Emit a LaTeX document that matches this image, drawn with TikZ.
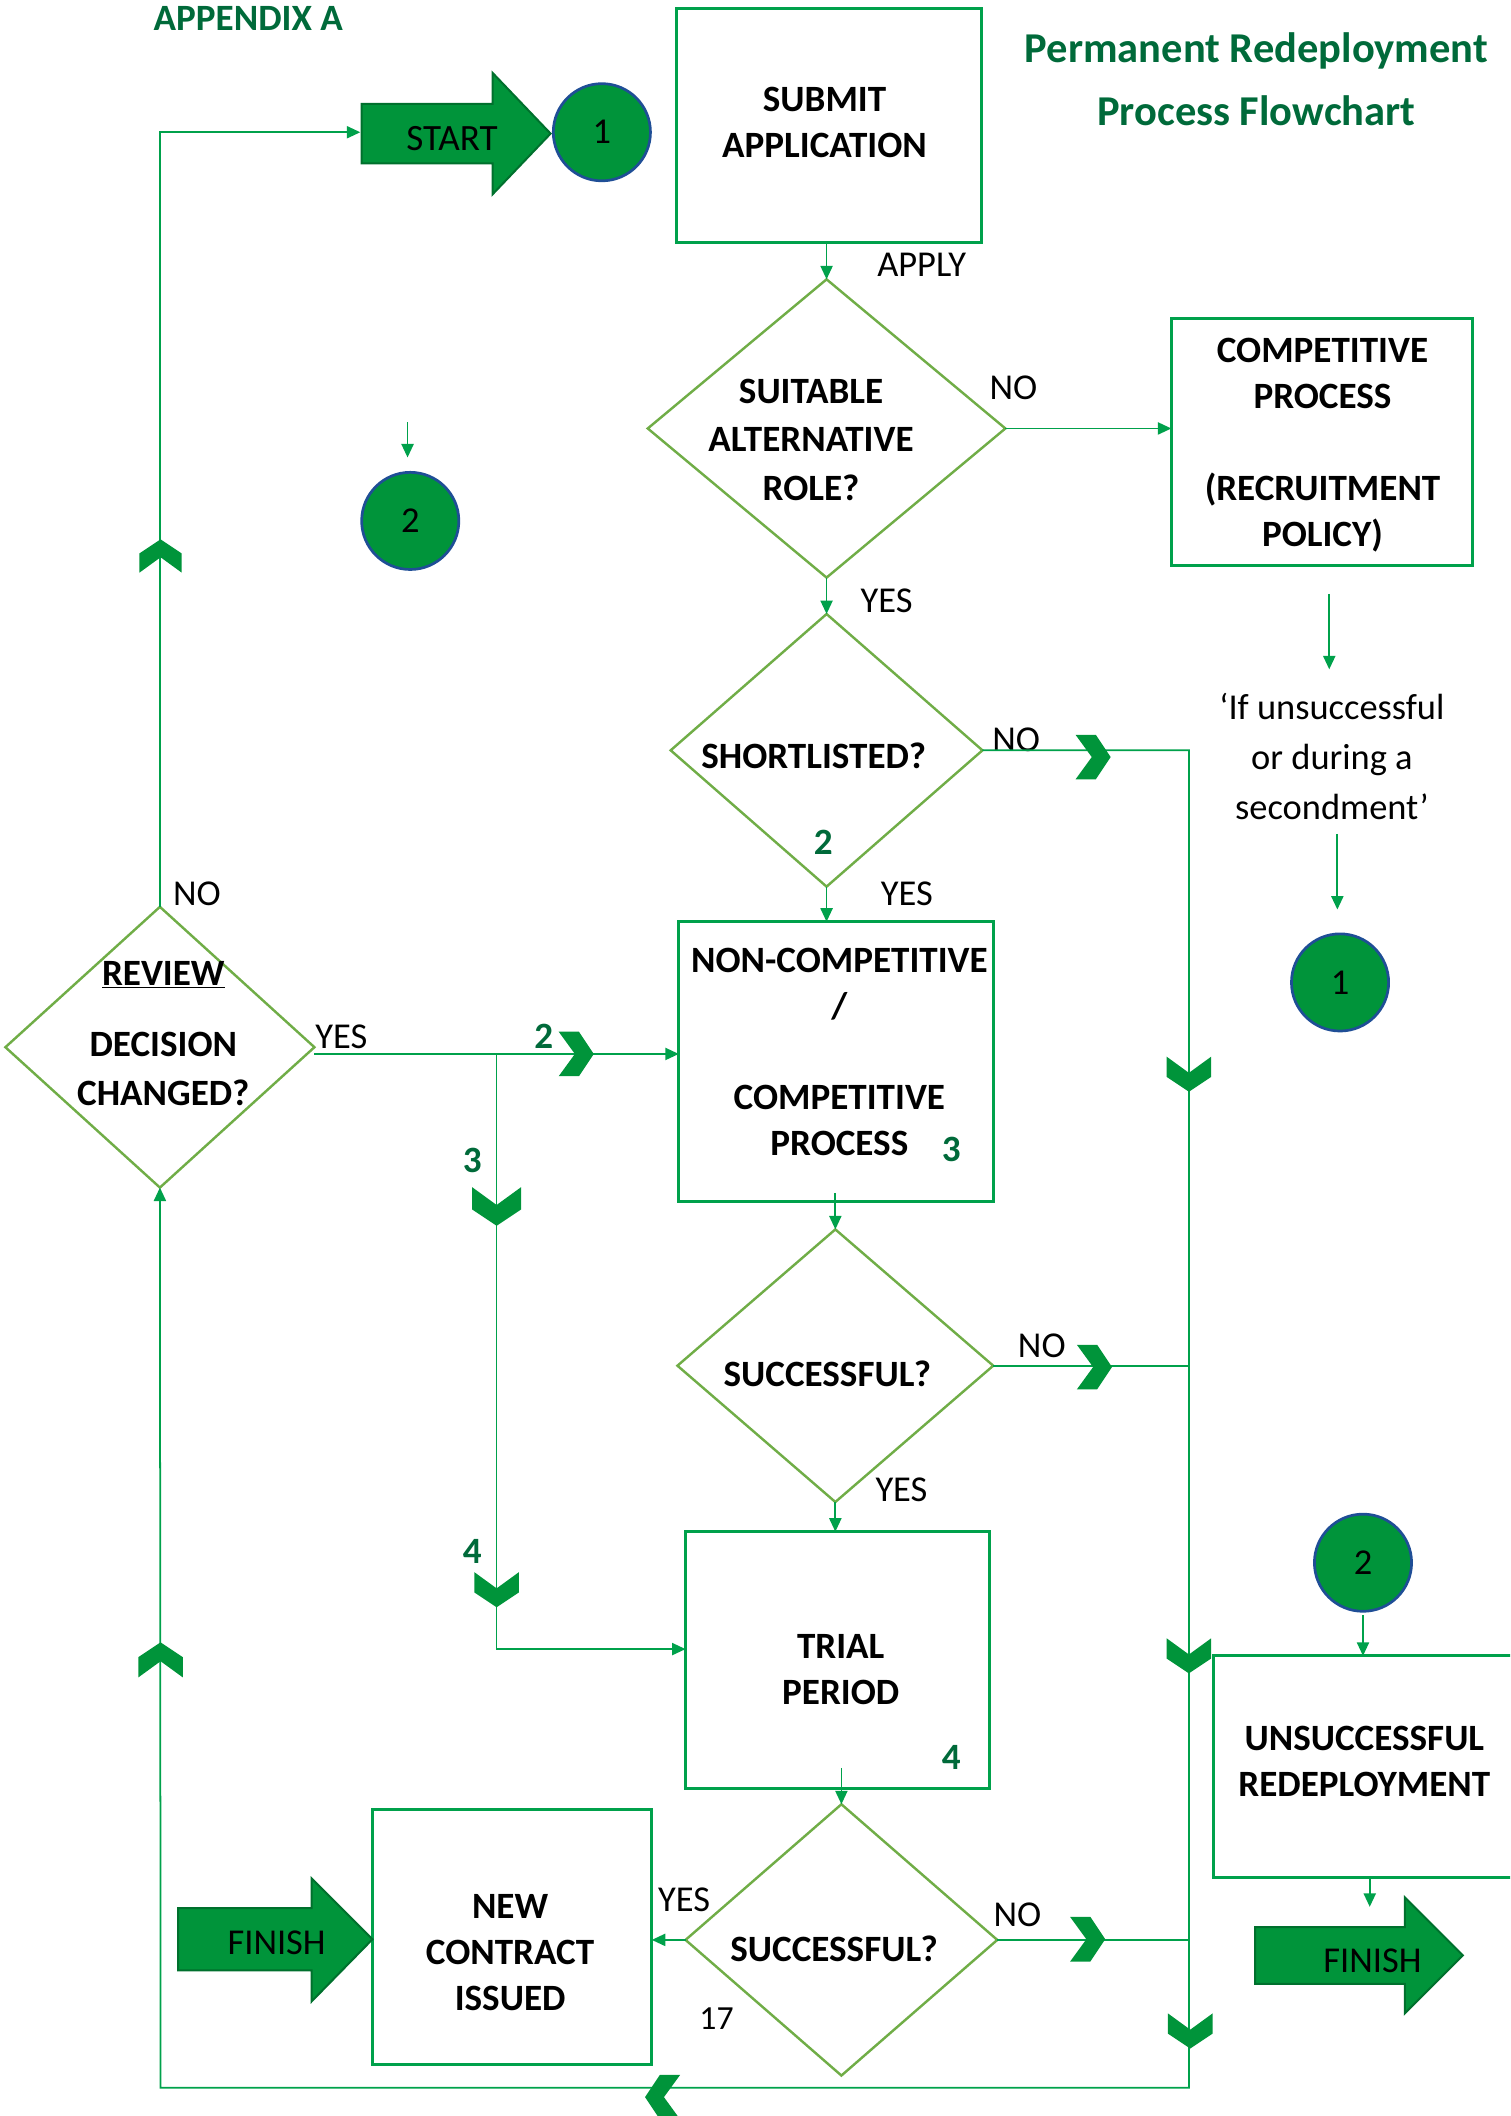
\documentclass[tikz,border=0pt]{standalone}
\usepackage{fontspec}
\setmainfont{Carlito}
\usetikzlibrary{shapes.geometric,arrows.meta,calc}
\definecolor{lgreen}{RGB}{0,161,75}
\definecolor{dgreen}{RGB}{112,173,71}
\definecolor{fgreen}{RGB}{0,148,58}
\definecolor{tgreen}{RGB}{0,106,58}
\definecolor{cblue}{RGB}{31,78,150}
\definecolor{ogreen}{RGB}{0,112,45}
\tikzset{
 conn/.style={draw=lgreen, line width=1.3pt},
 arr/.style={conn, -{Triangle[length=10pt,width=9pt]}},
 box/.style={draw=lgreen, line width=2.2pt, rectangle, inner sep=0pt, outer sep=0pt},
 dia/.style={draw=dgreen, line width=1.8pt, diamond, inner sep=0pt, outer sep=0pt},
 btxt/.style={font=\fontsize{27.5}{34}\selectfont\bfseries, align=center, inner sep=0pt},
 lbl/.style={font=\fontsize{27}{34}\selectfont, inner sep=0pt},
 gnum/.style={font=\fontsize{27.5}{34}\selectfont\bfseries, text=tgreen, inner sep=0pt},
 circ/.style={circle, fill=fgreen, draw=cblue, line width=2pt, minimum size=72pt, inner sep=0pt, outer sep=0pt, font=\fontsize{27}{34}\selectfont},
 bigarrow/.style={fill=fgreen, draw=ogreen, line width=1.5pt},
 chevron/.pic={\fill[fgreen] (-16.5,-13) -- (0,-1) -- (16.5,-13) -- (16.5,2) -- (0,13) -- (-16.5,2) -- cycle;}
}
\begin{document}
\begin{tikzpicture}[x=1pt,y=-1pt]
\useasboundingbox (0,0) rectangle (1119,1568);
\clip (0,0) rectangle (1119,1568);

% headings
\node[font=\fontsize{27.5}{34}\selectfont\bfseries, text=tgreen, inner sep=0pt] (app) at (184,13.6) {APPENDIX A};
\node[font=\fontsize{31.5}{47}\selectfont\bfseries, text=tgreen, inner sep=0pt, anchor=base] (title1) at (931,46) {Permanent Redeployment};
\node[font=\fontsize{31.5}{47}\selectfont\bfseries, text=tgreen, inner sep=0pt, anchor=base] (title2) at (931,93) {Process Flowchart};

% boxes
\node[box, minimum width=226pt, minimum height=174pt] (sub) at (614,93) {};
\node[box, minimum width=223pt, minimum height=183pt] (cp) at (979.5,327.5) {};
\node[box, minimum width=233pt, minimum height=207pt] (nc) at (619.5,786.5) {};
\node[box, minimum width=225pt, minimum height=190pt] (tp) at (620.5,1230) {};
\node[box, minimum width=207pt, minimum height=189pt] (ncc) at (379.5,1435.5) {};
\node[box, minimum width=231pt, minimum height=164pt] (ur) at (1014.5,1309) {};

% diamonds
\node[dia, minimum width=265pt, minimum height=221pt] (d1) at (612.5,317.5) {};
\node[dia, minimum width=231pt, minimum height=202pt] (d2) at (612.5,556) {};
\node[dia, minimum width=234pt, minimum height=202pt] (d3) at (619,1012) {};
\node[dia, minimum width=231pt, minimum height=201pt] (d4) at (623.5,1437.5) {};
\node[dia, minimum width=229pt, minimum height=208pt] (rev) at (118.5,776) {};

% circles
\node[circ] (c1a) at (446,98) {1};
\node[circ] (c1b) at (993,728) {1};
\node[circ] (c2a) at (304,386) {2};
\node[circ] (c2b) at (1010,1158) {2};

% big arrows
\path[bigarrow] (268,77) -- (365,77) -- (365,54) -- (408,99) -- (365,144) -- (365,121) -- (268,121) -- cycle;
\node[lbl, font=\fontsize{27.5}{34}\selectfont] (start) at (335,103) {START};
\path[bigarrow] (132,1414) -- (231,1414) -- (231,1392) -- (276,1437) -- (231,1483) -- (231,1460) -- (132,1460) -- cycle;
\node[lbl] (fin1) at (205,1440) {FINISH};
\path[bigarrow] (930,1428) -- (1041,1428) -- (1041,1406) -- (1084,1449) -- (1041,1492) -- (1041,1470) -- (930,1470) -- cycle;
\node[lbl] (fin2) at (1017,1453) {FINISH};

% texts in shapes
\node[btxt] (subt) at (611,91) {SUBMIT\\APPLICATION};
\node[btxt, font=\fontsize{27.5}{36}\selectfont\bfseries] (d1t) at (601,326) {SUITABLE\\ALTERNATIVE\\ROLE?};
\node[btxt] (cpt) at (980,330) {COMPETITIVE\\PROCESS\\[34pt](RECRUITMENT\\POLICY)};
\node[btxt] (d2t) at (603,560) {SHORTLISTED?};
\node[btxt] (revt1) at (121,722) {\underline{REVIEW}};
\node[btxt, font=\fontsize{27.5}{36}\selectfont\bfseries] (revt2) at (121,792) {DECISION\\CHANGED?};
\node[btxt] (nct) at (622,779.5) {NON-COMPETITIVE\\/\\[34pt]COMPETITIVE\\PROCESS};
\node[btxt] (d3t) at (613,1018) {SUCCESSFUL?};
\node[btxt] (tpt) at (623,1237) {TRIAL\\PERIOD};
\node[btxt] (d4t) at (618,1444) {SUCCESSFUL?};
\node[btxt] (ncct) at (378,1447) {NEW\\CONTRACT\\ISSUED};
\node[btxt] (urt) at (1011,1305) {UNSUCCESSFUL\\REDEPLOYMENT};

% quote
\node[lbl, anchor=base] (q1) at (987,533) {‘If unsuccessful};
\node[lbl, anchor=base] (q2) at (987,570) {or during a};
\node[lbl, anchor=base] (q3) at (987,607) {secondment’};

% connector labels
\node[lbl] (lapply) at (683,196) {APPLY};
\node[lbl] (lno1) at (751,287) {NO};
\node[lbl] (lyes1) at (657,445) {YES};
\node[lbl] (lno2) at (753,548) {NO};
\node[lbl] (lyes2) at (672,662) {YES};
\node[lbl] (lno3) at (146,662) {NO};
\node[lbl] (lyes3) at (253,768) {YES};
\node[lbl] (lno4) at (772,997) {NO};
\node[lbl] (lyes4) at (668,1104) {YES};
\node[lbl] (lyes5) at (507,1408) {YES};
\node[lbl] (lno5) at (754,1419) {NO};
\node[lbl, font=\fontsize{25}{30}\selectfont] (l17) at (531,1496) {17};

% green numbers
\node[gnum] (g2a) at (610,624) {2};
\node[gnum] (g2b) at (403,768) {2};
\node[gnum] (g3a) at (350,860) {3};
\node[gnum] (g3b) at (705,852) {3};
\node[gnum] (g4a) at (350,1150) {4};
\node[gnum] (g4b) at (705,1302) {4};

% helper coordinates
\coordinate (startw) at (267,98);
\coordinate (a1s) at (985,440);
\coordinate (a1e) at (985,496);
\coordinate (a2s) at (991,618);
\coordinate (a2e) at (991,674);
\coordinate (a3s) at (302,313);
\coordinate (a3e) at (302,339);
\coordinate (rbot) at (881,1547);
\coordinate (lbot) at (119,1547);
\coordinate (yj) at (368,781);
\coordinate (yj2) at (368,1222);
\coordinate (f2t) at (1015,1413);

% connectors
\draw[arr] (rev.north) -- (rev.north |- startw) -- (startw);
\draw[arr] (sub.south -| d1.north) -- (d1.north);
\draw[arr] (d1.east) -- (d1.east -| cp.west);
\draw[arr] (a1s) -- (a1e);
\draw[arr] (a2s) -- (a2e);
\draw[arr] (a3s) -- (a3e);
\draw[arr] (d1.south) -- (d2.north);
\draw[arr] (d2.east) -- (d2.east -| rbot) -- (rbot) -- (lbot) -- (rev.south);
\draw[arr] (d2.south) -- (d2.south |- nc.north);
\draw[arr] (rev.east |- yj) -- (yj -| nc.west);
\draw[arr] (yj) -- (yj2) -- (yj2 -| tp.west);
\draw[arr] ($(nc.south -| d3.north)+(0,-6)$) -- (d3.north);
\draw[conn] (d3.east) -- (d3.east -| rbot);
\draw[arr] (d3.south) -- (d3.south |- tp.north);
\draw[arr] ($(tp.south -| d4.north)+(0,-15)$) -- (d4.north);
\draw[arr] (d4.west) -- (d4.west -| ncc.east);
\draw[conn] (d4.east) -- (d4.east -| rbot);
\draw[arr] ($(c2b.south)+(0,3)$) -- (c2b.south |- ur.north);
\draw[arr] (ur.south -| f2t) -- (f2t);

% chevrons
\path (119,412) pic[rotate=180, scale=0.95] {chevron};
\path (119,1230) pic[rotate=180] {chevron};
\path (427,781) pic[rotate=90] {chevron};
\path (368,894) pic[scale=1.1] {chevron};
\path (368,1178) pic {chevron};
\path (810,561) pic[rotate=90] {chevron};
\path (881,796) pic {chevron};
\path (811,1013) pic[rotate=90] {chevron};
\path (881,1227) pic {chevron};
\path (806,1437) pic[rotate=90] {chevron};
\path (882,1505) pic {chevron};
\path (491,1554) pic[rotate=-90] {chevron};
\end{tikzpicture}
\end{document}
